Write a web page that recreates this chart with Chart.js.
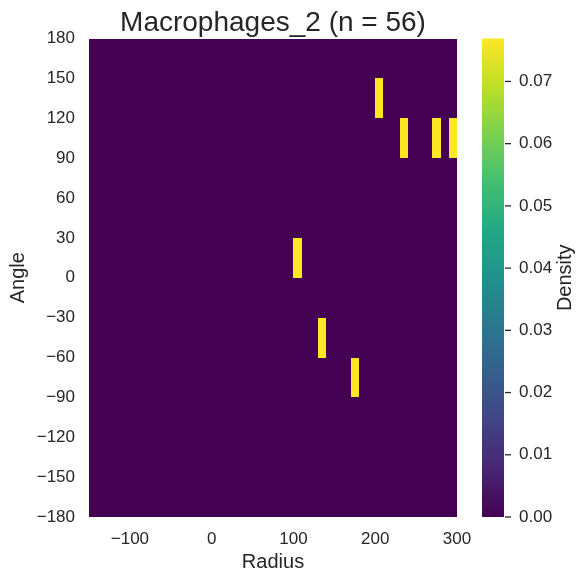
<!DOCTYPE html>
<html>
<head>
<meta charset="utf-8">
<script src="https://cdn.jsdelivr.net/npm/chart.js@4.4.1/dist/chart.umd.min.js"></script>
<style>
  html, body { margin: 0; padding: 0; background: #ffffff; }
  canvas { display: block; }
</style>
</head>
<body>
<canvas id="heatmap" width="585" height="584"></canvas>
<script>
// Data
const chartTitle = 'Macrophages_2 (n = 56)';
const radiusRange = [-150, 300];
const angleRange = [-180, 180];
const radiusBin = 10;
const angleBin = 30;

// occupied bins (lower-left edge of each bin) and their density
const cellRadius = [200, 230, 270, 290, 100, 130, 170];
const cellAngle = [120, 90, 90, 90, 0, -60, -90];
const cellDensity = [0.0769, 0.0769, 0.0769, 0.0769, 0.0769, 0.0769, 0.0769];
const densityMax = 0.0769;

const radiusTicks = [-100, 0, 100, 200, 300];
const angleTicks = [-180, -150, -120, -90, -60, -30, 0, 30, 60, 90, 120, 150, 180];
const densityTicks = [0, 0.01, 0.02, 0.03, 0.04, 0.05, 0.06, 0.07];

// viridis colour stops
const viridis = ['#440154', '#482475', '#414487', '#355f8d', '#2a788e', '#21918c',
                 '#22a884', '#44bf70', '#7ad151', '#bddf26', '#fde725'];

function hexToRgb(h) {
    return [parseInt(h.slice(1, 3), 16), parseInt(h.slice(3, 5), 16), parseInt(h.slice(5, 7), 16)];
}

function viridisColor(t) {
    t = Math.max(0, Math.min(1, t));
    const pos = t * (viridis.length - 1);
    const i = Math.min(Math.floor(pos), viridis.length - 2);
    const f = pos - i;
    const a = hexToRgb(viridis[i]), b = hexToRgb(viridis[i + 1]);
    const c = a.map((v, k) => Math.round(v + (b[k] - v) * f));
    return 'rgb(' + c.join(',') + ')';
}

function minusSign(v) {
    return String(v).replace('-', '\u2212');
}

// keep label overflow from pushing the plot area around
function noVerticalPad(s) {
    s.paddingTop = 0;
    s.paddingBottom = 0;
}

const textColor = '#262626';
Chart.defaults.font.family = '"Liberation Sans", Arial, sans-serif';
Chart.defaults.color = textColor;

// draws every histogram bin through the x / y scales
const heatmapPlugin = {
    id: 'heatmap',
    beforeDatasetsDraw(chart) {
        const ctx = chart.ctx;
        const xs = chart.scales.x, ys = chart.scales.y;
        const lookup = {};
        cellRadius.forEach((r, i) => { lookup[r + ':' + cellAngle[i]] = cellDensity[i]; });
        ctx.save();
        for (let r = radiusRange[0]; r < radiusRange[1]; r += radiusBin) {
            for (let a = angleRange[0]; a < angleRange[1]; a += angleBin) {
                const d = lookup[r + ':' + a] || 0;
                const x0 = Math.round(xs.getPixelForValue(r));
                const x1 = Math.round(xs.getPixelForValue(r + radiusBin));
                const y0 = Math.round(ys.getPixelForValue(a + angleBin));
                const y1 = Math.round(ys.getPixelForValue(a));
                ctx.fillStyle = viridisColor(d / densityMax);
                ctx.fillRect(x0, y0, x1 - x0, y1 - y0);
            }
        }
        ctx.restore();
    },
    afterDraw(chart) {
        // colour bar next to the density scale
        const ctx = chart.ctx;
        const s = chart.scales.density;
        const top = s.getPixelForValue(densityMax);
        const bottom = s.getPixelForValue(0);
        const x0 = s.left + 25;
        const w = 22;
        const grad = ctx.createLinearGradient(0, bottom, 0, top);
        viridis.forEach((c, i) => grad.addColorStop(i / (viridis.length - 1), c));
        ctx.save();
        ctx.fillStyle = grad;
        ctx.fillRect(x0, top, w, bottom - top);
        ctx.strokeStyle = textColor;
        ctx.lineWidth = 1.3;
        densityTicks.forEach(v => {
            const y = s.getPixelForValue(v);
            ctx.beginPath();
            ctx.moveTo(x0 + w + 1, y);
            ctx.lineTo(x0 + w + 7, y);
            ctx.stroke();
        });
        ctx.fillStyle = textColor;
        ctx.font = '20px "Liberation Sans", Arial, sans-serif';
        ctx.textAlign = 'center';
        ctx.textBaseline = 'middle';
        ctx.translate(565, (top + bottom) / 2);
        ctx.rotate(-Math.PI / 2);
        ctx.fillText('Density', 0, 0);
        ctx.restore();
    }
};

const ctx = document.getElementById('heatmap').getContext('2d');
new Chart(ctx, {
    type: 'scatter',
    data: {
        datasets: [{
            label: 'Density',
            data: cellRadius.map((r, i) => ({ x: r + radiusBin / 2, y: cellAngle[i] + angleBin / 2 })),
            pointRadius: 0,
            pointHoverRadius: 0
        }]
    },
    options: {
        responsive: false,
        animation: false,
        devicePixelRatio: 1,
        layout: { padding: 0 },
        plugins: {
            legend: { display: false },
            tooltip: { enabled: false },
            title: {
                display: true,
                fullSize: false,
                text: chartTitle,
                color: textColor,
                font: { size: 28, weight: 'normal', lineHeight: 1 },
                padding: { top: 9.5, bottom: 1 }
            }
        },
        scales: {
            x: {
                type: 'linear',
                min: radiusRange[0],
                max: radiusRange[1],
                afterBuildTicks: s => { s.ticks = radiusTicks.map(v => ({ value: v })); },
                afterFit: s => { s.height = 67; s.paddingLeft = 0; s.paddingRight = 0; },
                grid: { display: false, drawTicks: false },
                border: { display: false },
                ticks: {
                    padding: 12,
                    maxRotation: 0,
                    font: { size: 17 },
                    callback: v => minusSign(v)
                },
                title: {
                    display: true,
                    text: 'Radius',
                    font: { size: 20 },
                    padding: { top: 0, bottom: 10 }
                }
            },
            y: {
                type: 'linear',
                min: angleRange[0],
                max: angleRange[1],
                afterBuildTicks: s => { s.ticks = angleTicks.map(v => ({ value: v })); },
                afterFit: s => { s.width = 89; noVerticalPad(s); },
                grid: { display: false, drawTicks: false },
                border: { display: false },
                ticks: {
                    padding: 14,
                    font: { size: 17 },
                    callback: v => minusSign(v)
                },
                title: {
                    display: true,
                    text: 'Angle',
                    font: { size: 20 },
                    padding: { top: 6, bottom: 0 }
                }
            },
            density: {
                type: 'linear',
                axis: 'y',
                position: 'right',
                min: 0,
                max: densityMax,
                afterBuildTicks: s => { s.ticks = densityTicks.map(v => ({ value: v })); },
                afterFit: s => { s.width = 128; noVerticalPad(s); },
                grid: { display: false, drawTicks: false },
                border: { display: false },
                ticks: {
                    padding: 62,
                    font: { size: 17 },
                    callback: v => v.toFixed(2)
                }
            }
        }
    },
    plugins: [heatmapPlugin]
});
</script>
</body>
</html>
